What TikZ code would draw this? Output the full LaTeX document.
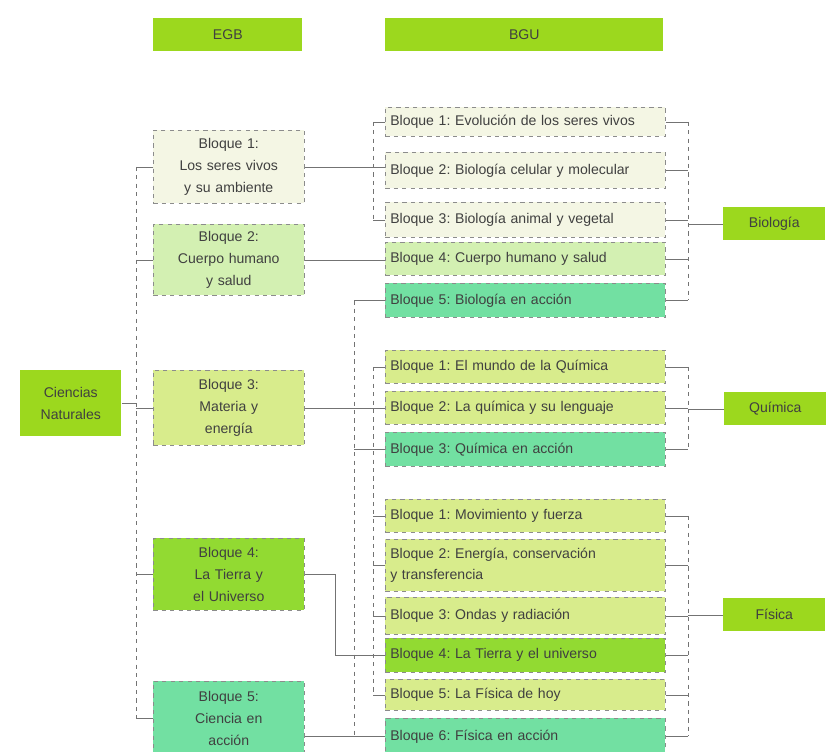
\documentclass[tikz,border=0pt]{standalone}
\usepackage{fontspec}
\setmainfont{Liberation Sans}
\usepackage{tikz}
\usetikzlibrary{positioning}
\definecolor{lime}{HTML}{9CD81E}
\definecolor{cream}{HTML}{F4F6E4}
\definecolor{pale}{HTML}{D3F0B2}
\definecolor{olive}{HTML}{D8EC8C}
\definecolor{leaf}{HTML}{92DA32}
\definecolor{mint}{HTML}{72E0A2}
\frenchspacing

\begin{document}
\begin{tikzpicture}[
    x=0.025cm, y=-0.025cm,
    every node/.style={font=\fontsize{10}{15.5}\selectfont, text=black!75, anchor=north west, inner sep=0pt},
    head/.style={rectangle, fill=lime, minimum height=33*0.025cm, align=center},
    egb/.style={rectangle, draw=black!45, dashed, minimum width=151*0.025cm, text width=151*0.025cm, align=center},
    bgu/.style={rectangle, draw=black!45, dashed, minimum width=280*0.025cm, text width=270*0.025cm, inner xsep=5*0.025cm, align=left},
    area/.style={rectangle, fill=lime, minimum width=102*0.025cm, minimum height=33*0.025cm, align=center},
    link/.style={black!55, thin},
    bus/.style={black!55, thin, dashed}
]
\useasboundingbox (0,0) rectangle (830,751);
\clip (0,0) rectangle (830,751);

% headers
\node (hegb) [head, minimum width=149*0.025cm] at (153,18) {EGB};
\node (hbgu) [head, minimum width=278*0.025cm] at (385,18) {BGU};

% EGB
\node (cn) [area, minimum width=101*0.025cm, minimum height=66*0.025cm] at (20,370) {Ciencias\\Naturales};
\node (e1) [egb, fill=cream, minimum height=73*0.025cm] at (153,130) {Bloque 1:\\Los seres vivos\\y su ambiente};
\node (e2) [egb, fill=pale, minimum height=71*0.025cm] at (153,224) {Bloque 2:\\Cuerpo humano\\y salud};
\node (e3) [egb, fill=olive, minimum height=75*0.025cm] at (153,370) {Bloque 3:\\Materia y\\energía};
\node (e4) [egb, fill=leaf, minimum height=72*0.025cm] at (153,538) {Bloque 4:\\La Tierra y\\el Universo};
\node (e5) [egb, fill=mint, minimum height=74*0.025cm] at (153,681) {Bloque 5:\\Ciencia en\\acción};

% BGU - Biologia
\node (b1) [bgu, fill=cream, minimum height=29*0.025cm] at (385,107) {Bloque 1: Evolución de los seres vivos};
\node (b2) [bgu, fill=cream, minimum height=36*0.025cm] at (385,152) {Bloque 2: Biología celular y molecular};
\node (b3) [bgu, fill=cream, minimum height=35*0.025cm] at (385,202) {Bloque 3: Biología animal y vegetal};
\node (b4) [bgu, fill=pale, minimum height=33*0.025cm] at (385,242) {Bloque 4: Cuerpo humano y salud};
\node (b5) [bgu, fill=mint, minimum height=34*0.025cm] at (385,283) {Bloque 5: Biología en acción};

% BGU - Quimica
\node (q1) [bgu, fill=olive, minimum height=33*0.025cm] at (385,350) {Bloque 1: El mundo de la Química};
\node (q2) [bgu, fill=olive, minimum height=33*0.025cm] at (385,391) {Bloque 2: La química y su lenguaje};
\node (q3) [bgu, fill=mint, minimum height=34*0.025cm] at (385,432) {Bloque 3: Química en acción};

% BGU - Fisica
\node (f1) [bgu, fill=olive, minimum height=33*0.025cm] at (385,499) {Bloque 1: Movimiento y fuerza};
\node (f2) [bgu, fill=olive, minimum height=52*0.025cm] at (385,539) {Bloque 2: Energía, conservación\\y transferencia};
\node (f3) [bgu, fill=olive, minimum height=37*0.025cm] at (385,597) {Bloque 3: Ondas y radiación};
\node (f4) [bgu, fill=leaf, minimum height=34*0.025cm] at (385,638) {Bloque 4: La Tierra y el universo};
\node (f5) [bgu, fill=olive, minimum height=31*0.025cm] at (385,679) {Bloque 5: La Física de hoy};
\node (f6) [bgu, fill=mint, minimum height=36*0.025cm] at (385,718) {Bloque 6: Física en acción};

% areas
\node (bio) [area] at (723,207) {Biología};
\node (qui) [area] at (724,392) {Química};
\node (fis) [area] at (723,598) {Física};

\coordinate (tl) at (136,0);
\coordinate (tm) at (354,0);
\coordinate (tn) at (373,0);
\coordinate (tr) at (688,0);
\coordinate (bend) at (335,0);

% Ciencias Naturales to EGB
\draw [link] (cn.east) -- (cn.east -| tl);
\draw [bus] (e1.west -| tl) -- (e5.west -| tl);
\foreach \n in {e1,e2,e3,e4,e5}
    \draw [link] (\n.west) -- (\n.west -| tl);

% EGB to BGU
\draw [link] (e1.east) -- (e1.east -| b2.west);
\draw [bus] (b1.west -| tn) -- (b3.west -| tn);
\draw [link] (b1.west) -- (b1.west -| tn);
\draw [link] (b3.west) -- (b3.west -| tn);
\draw [link] (e2.east) -- (e2.east -| b4.west);
\draw [link] (e3.east) -- (e3.east -| q2.west);
\draw [bus] (q1.west -| tn) -- (f5.west -| tn);
\foreach \n in {q1,f1,f2,f3,f5}
    \draw [link] (\n.west) -- (\n.west -| tn);
\draw [link] (e4.east) -- (e4.east -| bend) |- (f4.west);
\draw [link] (e5.east |- f6.west) -- (f6.west);
\draw [bus] (b5.west -| tm) -- (f6.west -| tm);
\foreach \n in {b5,q3}
    \draw [link] (\n.west) -- (\n.west -| tm);

% BGU to areas
\draw [bus] (b1.east -| tr) -- (b5.east -| tr);
\foreach \n in {b1,b2,b3,b4,b5}
    \draw [link] (\n.east) -- (\n.east -| tr);
\draw [link] (bio.west -| tr) -- (bio.west);
\draw [bus] (q1.east -| tr) -- (q3.east -| tr);
\foreach \n in {q1,q2,q3}
    \draw [link] (\n.east) -- (\n.east -| tr);
\draw [link] (qui.west -| tr) -- (qui.west);
\draw [bus] (f1.east -| tr) -- (f6.east -| tr);
\foreach \n in {f1,f2,f3,f4,f5,f6}
    \draw [link] (\n.east) -- (\n.east -| tr);
\draw [link] (fis.west -| tr) -- (fis.west);
\end{tikzpicture}
\end{document}
